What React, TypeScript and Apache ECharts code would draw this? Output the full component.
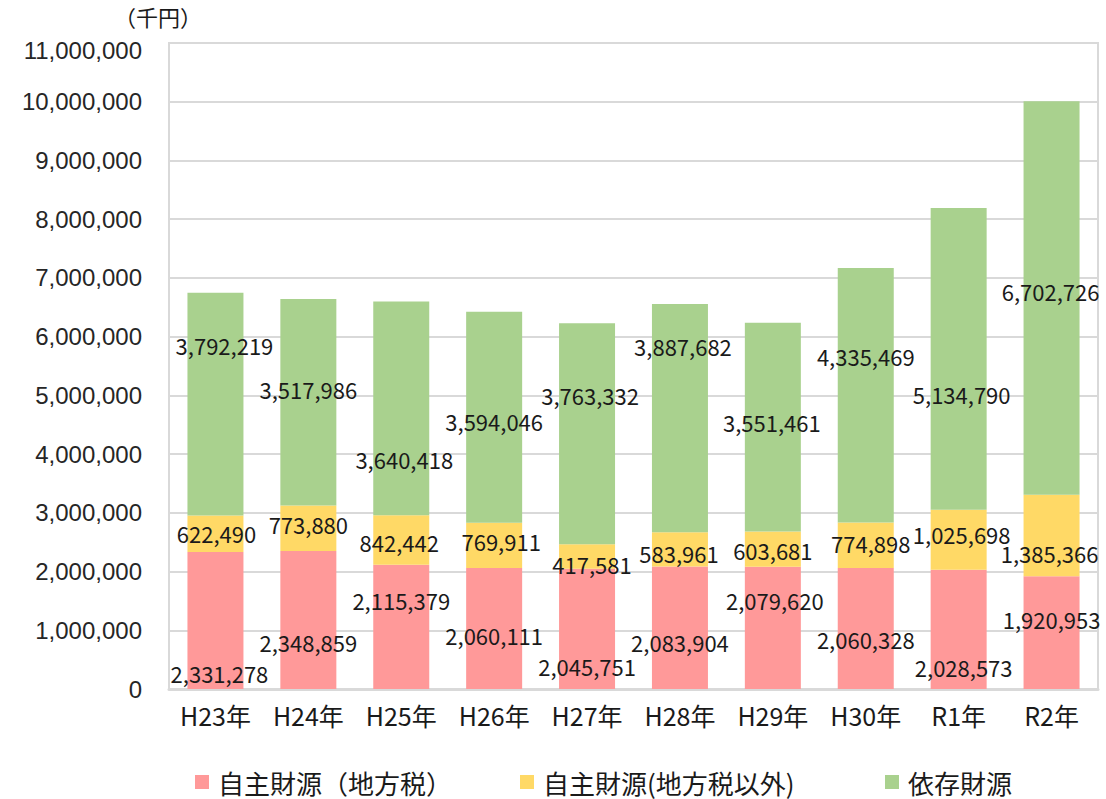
import React, { useEffect, useRef } from "react";
import * as echarts from "echarts";

const categories = ["H23年", "H24年", "H25年", "H26年", "H27年", "H28年", "H29年", "H30年", "R1年", "R2年"];
const seriesNames = ["自主財源（地方税）", "自主財源(地方税以外)", "依存財源"];
const localTax = [2331278, 2348859, 2115379, 2060111, 2045751, 2083904, 2079620, 2060328, 2028573, 1920953];
const otherOwn = [622490, 773880, 842442, 769911, 417581, 583961, 603681, 774898, 1025698, 1385366];
const dependent = [3792219, 3517986, 3640418, 3594046, 3763332, 3887682, 3551461, 4335469, 5134790, 6702726];
const yTicks = { min: 0, max: 11000000, interval: 1000000 };
const unitLabel = "（千円）";

// label placement (style only): pixel offsets from each segment's centre
const redOffsets = [[4, 52], [0, 22], [0, -27], [0, 6], [0, 37], [0, 14], [2, -28], [0, 10], [5, 38], [0, -14]];
const yellowOffsets = [[1, -1], [0, -4], [-2, 2], [7, -4], [5, 7], [-1, 4], [0, 1], [5, -2], [3, -6], [-2, 17]];
const greenOffsets = [[9, -59], [0, -13], [3, 51], [0, 4], [3, -39], [3, -72], [-1, -5], [0, -39], [3, 35], [-1, -7]];

const colors = ["#FF9999", "#FFD966", "#A9D18E"];
const fmt = (v: number) => v.toLocaleString("en-US");
const CJK = "'Noto Sans CJK JP', 'Noto Sans', sans-serif";

export default function App() {
  const ref = useRef<HTMLDivElement>(null);
  useEffect(() => {
    if (!ref.current) return;
    const chart = echarts.init(ref.current, null, { renderer: "svg" });
    const mk = (vals: number[], offs: number[][]) =>
      vals.map((v, i) => ({ value: v, label: { offset: offs[i] } }));
    const seriesData = [
      mk(localTax, redOffsets),
      mk(otherOwn, yellowOffsets),
      mk(dependent, greenOffsets),
    ];
    const legendLefts = [190, 515, 880];
    chart.setOption({
      animation: false,
      backgroundColor: "#ffffff",
      grid: {
        left: 169,
        right: 8,
        top: 43,
        bottom: 110,
        show: true,
        borderColor: "#d9d9d9",
        borderWidth: 2,
      },
      legend: seriesNames.map((n, i) => ({
        data: [n],
        left: legendLefts[i],
        top: 764,
        icon: "rect",
        itemWidth: 14,
        itemHeight: 14,
        itemGap: 0,
        textStyle: { fontFamily: CJK, fontSize: 26, color: "#1a1a1a", padding: [0, 0, 0, 4] },
      })),
      graphic: [
        {
          type: "text",
          left: 114,
          top: 5,
          style: { text: unitLabel, font: `22px ${CJK}`, fill: "#1a1a1a" },
        },
      ],
      xAxis: {
        type: "category",
        data: categories,
        axisLine: { show: true, lineStyle: { color: "#d9d9d9", width: 3 } },
        axisTick: { show: false },
        axisLabel: { fontFamily: CJK, fontSize: 25, color: "#1a1a1a", margin: 13 },
      },
      yAxis: {
        type: "value",
        min: yTicks.min,
        max: yTicks.max,
        interval: yTicks.interval,
        axisLine: { show: false },
        axisTick: { show: false },
        splitLine: { show: true, lineStyle: { color: "#d9d9d9", width: 2 } },
        axisLabel: {
          fontFamily: "'Liberation Sans', Arial, sans-serif",
          fontSize: 24,
          color: "#262626",
          margin: 27,
          formatter: (v: number) => (v === yTicks.max ? `{top|${fmt(v)}}` : fmt(v)),
          rich: {
            top: {
              fontFamily: "'Liberation Sans', Arial, sans-serif",
              fontSize: 24,
              color: "#262626",
              padding: [14, 0, 0, 0],
            },
          },
        },
      },
      series: seriesNames.map((n, i) => ({
        name: n,
        type: "bar",
        stack: "total",
        barWidth: 56,
        itemStyle: { color: colors[i] },
        label: {
          show: true,
          position: "inside",
          fontFamily: CJK,
          fontSize: 22,
          color: "#1a1a1a",
          formatter: (p: any) => fmt(p.value),
        },
        data: seriesData[i],
      })),
    });
    return () => chart.dispose();
  }, []);
  return (
    <div
      ref={ref}
      style={{ position: "fixed", left: 0, top: 0, width: 1106, height: 799, background: "#fff" }}
    />
  );
}
